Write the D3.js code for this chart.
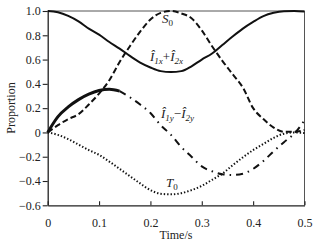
<!DOCTYPE html>
<html>
<head>
<meta charset="utf-8">
<script src="https://cdn.jsdelivr.net/npm/d3@7"></script>
<style>
  body { margin: 0; background: #fff; }
  text { font-family: "Liberation Serif", "Times New Roman", serif; fill: #222; }
</style>
</head>
<body>
<div id="content"></div>
<script>
// time samples (s)
const times = [0, 0.02, 0.04, 0.06, 0.08, 0.10, 0.12, 0.14, 0.16, 0.18, 0.20, 0.22, 0.24,
               0.26, 0.28, 0.30, 0.32, 0.34, 0.36, 0.38, 0.40, 0.42, 0.44, 0.46, 0.48, 0.50];
// S0 (solid)
const s0 = [1.0, 0.99, 0.96, 0.915, 0.855, 0.805, 0.745, 0.69, 0.63, 0.575, 0.535, 0.505, 0.497,
            0.505, 0.545, 0.6, 0.65, 0.72, 0.79, 0.855, 0.91, 0.958, 0.985, 0.998, 1.0, 0.995];
// I1x + I2x (dashed)
const ixSum = [0, 0.06, 0.11, 0.15, 0.23, 0.32, 0.43, 0.58, 0.71, 0.83, 0.93, 0.985, 1.0,
               0.98, 0.94, 0.84, 0.71, 0.59, 0.48, 0.37, 0.2, 0.11, 0.04, 0.005, 0.005, 0.02];
// I1y - I2y (thick start, then dash-dot)
const iyDiff = [0, 0.13, 0.21, 0.27, 0.315, 0.345, 0.355, 0.34, 0.29, 0.23, 0.16, 0.06, -0.02,
                -0.12, -0.2, -0.28, -0.32, -0.345, -0.35, -0.34, -0.3, -0.235, -0.155, -0.08, -0.01, 0.1];
// T0 (dotted)
const t0 = [0, -0.02, -0.055, -0.1, -0.145, -0.185, -0.24, -0.3, -0.36, -0.42, -0.475, -0.505, -0.51,
            -0.5, -0.475, -0.44, -0.39, -0.34, -0.27, -0.205, -0.145, -0.095, -0.045, -0.01, 0.0, -0.005];

const xTicks = [0, 0.1, 0.2, 0.3, 0.4, 0.5];
const yTicks = [1.0, 0.8, 0.6, 0.4, 0.2, 0, -0.2, -0.4, -0.6];
const thickEnd = 0.14;   // the I1y-I2y curve is drawn heavy up to here

const W = 324, H = 244;
const margin = { left: 47.7, right: 19.5, top: 11, bottom: 38.7 };
const iW = W - margin.left - margin.right;
const iH = H - margin.top - margin.bottom;

const xScale = d3.scaleLinear().domain([0, 0.5]).range([0, iW]);
const yScale = d3.scaleLinear().domain([-0.6, 1.0]).range([iH, 0]);

const svg = d3.select("#content").append("svg")
    .attr("width", W).attr("height", H);

const g = svg.append("g")
    .attr("transform", "translate(" + margin.left + "," + margin.top + ")");

// frame top / right
g.append("path")
    .attr("d", "M0,0H" + iW + "V" + iH)
    .attr("fill", "none").attr("stroke", "#555").attr("stroke-width", 1);

const fmt = d => d === 0 ? "0" : d3.format(".1f")(d).replace("-", "\u2212");

const xAxis = g.append("g")
    .attr("transform", "translate(0," + iH + ")")
    .call(d3.axisBottom(xScale).tickValues(xTicks).tickSizeInner(-4).tickSizeOuter(0)
        .tickPadding(13).tickFormat(d => d === 0 ? "0" : d3.format(".1f")(d)));
const yAxis = g.append("g")
    .call(d3.axisLeft(yScale).tickValues(yTicks).tickSizeInner(5).tickSizeOuter(0)
        .tickPadding(2).tickFormat(fmt));

[xAxis, yAxis].forEach(a => {
  a.select(".domain").attr("stroke", "#222").attr("stroke-width", 1.3);
  a.selectAll(".tick line").attr("stroke", "#222").attr("stroke-width", 1.1);
  a.selectAll("text").style("font-family", "'Liberation Serif', 'Times New Roman', serif")
      .style("font-size", "12px").attr("fill", "#222");
});

const pts = vals => times.map((t, i) => [t, vals[i]]);
const line = d3.line()
    .x(d => xScale(d[0])).y(d => yScale(d[1]))
    .curve(d3.curveMonotoneX);

const curves = g.append("g").attr("fill", "none").attr("stroke", "#111");

curves.append("path").attr("d", line(pts(s0))).attr("stroke-width", 2);
curves.append("path").attr("d", line(pts(ixSum)))
    .attr("stroke-width", 2).attr("stroke-dasharray", "6,3");
curves.append("path").attr("d", line(pts(iyDiff).filter(d => d[0] <= thickEnd)))
    .attr("stroke-width", 3);
curves.append("path").attr("d", line(pts(iyDiff).filter(d => d[0] >= thickEnd)))
    .attr("stroke-width", 2).attr("stroke-dasharray", "7,5,1.5,5");
curves.append("path").attr("d", line(pts(t0)))
    .attr("stroke-width", 2).attr("stroke-dasharray", "1.4,2");

// curve labels
function label(x, y, parts) {
  const t = svg.append("text").attr("x", x).attr("y", y)
      .style("font-size", "13px").style("font-style", "italic");
  parts.forEach(p => {
    const s = t.append("tspan").text(p.t);
    if (p.sub) s.style("font-size", "9px").attr("dy", 3);
    if (p.up) s.attr("dy", -3);
    if (p.plain) s.style("font-style", "normal");
  });
}
label(162, 23, [{ t: "S" }, { t: "0", sub: 1, plain: 1 }]);
label(150, 61, [{ t: "\u00CE" }, { t: "1x", sub: 1 }, { t: "+", up: 1, plain: 1 }, { t: "\u00CE" }, { t: "2x", sub: 1 }]);
label(161, 118, [{ t: "\u00CE" }, { t: "1y", sub: 1 }, { t: "\u2212", up: 1, plain: 1 }, { t: "\u00CE" }, { t: "2y", sub: 1 }]);
label(166, 187, [{ t: "T" }, { t: "0", sub: 1, plain: 1 }]);

// axis titles
svg.append("text").attr("x", 176).attr("y", 239).attr("text-anchor", "middle")
    .style("font-size", "12px").text("Time/s");
svg.append("text").attr("transform", "translate(15,108) rotate(-90)")
    .attr("text-anchor", "middle").style("font-size", "12px").text("Proportion");
</script>
</body>
</html>
